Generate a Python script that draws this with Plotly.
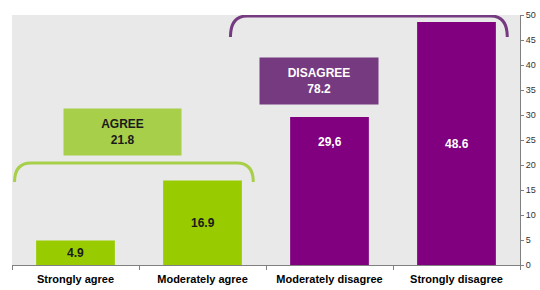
import plotly.graph_objects as go

categories = ["Strongly agree", "Moderately agree", "Moderately disagree", "Strongly disagree"]
values = [4.9, 16.9, 29.6, 48.6]
value_labels = ["4.9", "16.9", "29,6", "48.6"]
bar_colors = ["#99CC00", "#99CC00", "#800080", "#800080"]
label_colors = ["#1a1a1a", "#1a1a1a", "#ffffff", "#ffffff"]
label_y = [v / 2 for v in values]
label_y[2] = values[2] - 5
group_names = ["AGREE", "DISAGREE"]
group_totals = ["21.8", "78.2"]
y_ticks = list(range(0, 51, 5))

FONT = "Liberation Sans, Arial, sans-serif"

fig = go.Figure()
fig.add_trace(go.Bar(
    x=categories, y=values, marker=dict(color=bar_colors, line=dict(width=0)),
    width=0.62, hoverinfo="skip",
))

for cat, ly, txt, col in zip(categories, label_y, value_labels, label_colors):
    fig.add_annotation(x=cat, y=ly, text="<b>%s</b>" % txt, showarrow=False,
                       font=dict(family=FONT, size=12, color=col))

# group boxes
fig.add_annotation(x=0.37, y=26.6, text="<b>%s<br>%s</b>" % (group_names[0], group_totals[0]),
                   showarrow=False, bgcolor="#A8CF4A", width=115, height=44,
                   font=dict(family=FONT, size=12, color="#1a1a1a"))
fig.add_annotation(x=1.92, y=36.8, text="<b>%s<br>%s</b>" % (group_names[1], group_totals[1]),
                   showarrow=False, bgcolor="#753A80", width=116, height=44,
                   font=dict(family=FONT, size=12, color="#ffffff"))

def brace(x0, x1, ytop, ybot, r, color):
    path = (f"M {x0},{ybot} Q {x0},{ytop} {x0 + r},{ytop} "
            f"L {x1 - r},{ytop} Q {x1},{ytop} {x1},{ybot}")
    fig.add_shape(type="path", path=path, xref="x", yref="y",
                  line=dict(color=color, width=3))

brace(-0.48, 1.40, 20.4, 16.6, 0.13, "#A8CF4A")
brace(1.22, 3.40, 49.8, 45.6, 0.13, "#753A80")

fig.update_layout(
    width=540, height=290,
    margin=dict(l=12, r=20, t=15, b=25),
    paper_bgcolor="#ffffff", plot_bgcolor="#E9E9E9",
    showlegend=False,
    font=dict(family=FONT),
    xaxis=dict(
        showgrid=False, showline=True, linecolor="#808080", linewidth=1,
        ticks="outside", tickson="boundaries", ticklen=4, tickcolor="#808080",
        tickfont=dict(family=FONT, size=11, color="#000000"),
        range=[-0.5, 3.5], automargin=False, ticklabelstandoff=4,
        tickprefix="<b>", ticksuffix="</b>",
    ),
    yaxis=dict(
        side="right", range=[0, 50], tickvals=y_ticks, showgrid=False,
        showline=True, linecolor="#808080", linewidth=1, zeroline=False,
        ticks="outside", ticklen=3, tickcolor="#808080", automargin=False,
        tickfont=dict(family=FONT, size=9, color="#333333"),
    ),
)

fig.write_html("out.html", config={"displayModeBar": False},
               post_script="document.body.style.margin='0';document.body.style.overflow='hidden';")
